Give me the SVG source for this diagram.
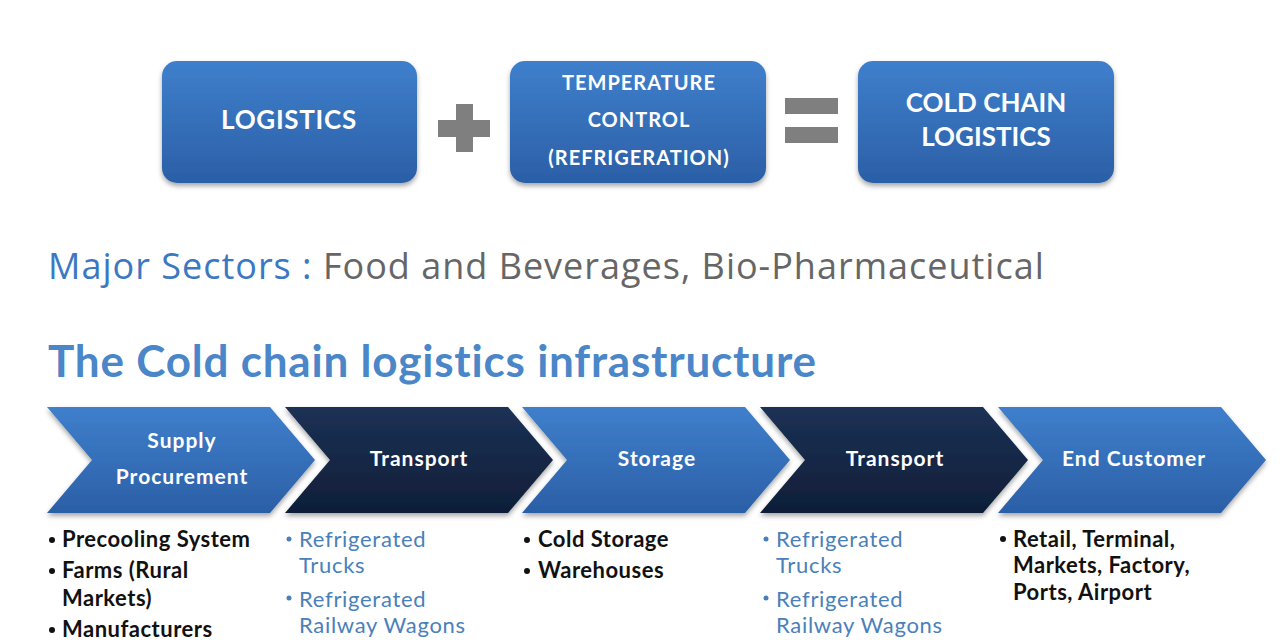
<svg xmlns="http://www.w3.org/2000/svg" width="1280" height="640" viewBox="0 0 1280 640">
<defs>
<linearGradient id="gBlue" x1="0" y1="0" x2="0" y2="1">
<stop offset="0" stop-color="#3f7fcc"/>
<stop offset="1" stop-color="#2b5fa6"/>
</linearGradient>
<linearGradient id="gDark" x1="0" y1="0" x2="0" y2="1">
<stop offset="0" stop-color="#1c3155"/>
<stop offset="1" stop-color="#0f1e38"/>
</linearGradient>
<filter id="sh" x="-10%" y="-10%" width="120%" height="130%">
<feDropShadow dx="0" dy="3" stdDeviation="2.5" flood-color="#000" flood-opacity="0.35"/>
</filter>
<style>
text{font-family:Lato,"Open Sans","Liberation Sans",sans-serif}
.bt{fill:#fff;font-weight:bold;text-anchor:middle}
.ch{fill:#fff;font-weight:bold;text-anchor:middle;font-size:21px;letter-spacing:1px}
.blk{fill:#111;font-size:22px;font-weight:bold;letter-spacing:0.5px}
.blu{fill:#4a80ba;font-size:22px;letter-spacing:0.7px}
.op{fill:#7f7f7f}
</style>
</defs>
<rect width="1280" height="640" fill="#fff"/>

<g id="logistics">
<rect x="162" y="61" width="255" height="122" rx="15" fill="url(#gBlue)" filter="url(#sh)"/>
<text class="bt" x="289" y="129" font-size="26" letter-spacing="0.7">LOGISTICS</text>
</g>
<g id="plus">
<path class="op" d="M456 104h17v16h17v17h-17v15h-17v-15h-18v-17h18z"/>
</g>
<g id="temperature">
<rect x="510" y="61" width="256" height="122" rx="15" fill="url(#gBlue)" filter="url(#sh)"/>
<text class="bt" x="639" y="90" font-size="20" letter-spacing="1">TEMPERATURE</text>
<text class="bt" x="639" y="127" font-size="20" letter-spacing="1">CONTROL</text>
<text class="bt" x="639" y="165" font-size="20" letter-spacing="1">(REFRIGERATION)</text>
</g>
<g id="equals">
<rect class="op" x="785" y="98" width="53" height="16"/>
<rect class="op" x="785" y="127" width="53" height="16"/>
</g>
<g id="coldchain">
<rect x="858" y="61" width="256" height="122" rx="15" fill="url(#gBlue)" filter="url(#sh)"/>
<text class="bt" x="986" y="112" font-size="26">COLD CHAIN</text>
<text class="bt" x="986" y="146" font-size="26">LOGISTICS</text>
</g>

<g id="sectors">
<text x="48" y="279" font-size="36" letter-spacing="1" style="font-family:'Open Sans','Liberation Sans',sans-serif"><tspan fill="#3b78c2">Major Sectors : </tspan><tspan fill="#666">Food and Beverages, Bio-Pharmaceutical</tspan></text>
</g>
<g id="title">
<text x="48" y="377" font-size="44" font-weight="bold" letter-spacing="0.8" fill="#4a86c8">The Cold chain logistics infrastructure</text>
</g>

<g id="supply">
<path d="M47 407h223l45 53l-45 53h-223l45-53z" fill="url(#gBlue)" filter="url(#sh)"/>
<text class="ch" x="182" y="448">Supply</text>
<text class="ch" x="182" y="484">Procurement</text>
</g>
<g id="transport1">
<path d="M285 407h223l45 53l-45 53h-223l45-53z" fill="url(#gDark)" filter="url(#sh)"/>
<text class="ch" x="419" y="466">Transport</text>
</g>
<g id="storage">
<path d="M522 407h223l45 53l-45 53h-223l45-53z" fill="url(#gBlue)" filter="url(#sh)"/>
<text class="ch" x="657" y="466">Storage</text>
</g>
<g id="transport2">
<path d="M760 407h223l45 53l-45 53h-223l45-53z" fill="url(#gDark)" filter="url(#sh)"/>
<text class="ch" x="895" y="466">Transport</text>
</g>
<g id="endcustomer">
<path d="M998 407h223l45 53l-45 53h-223l45-53z" fill="url(#gBlue)" filter="url(#sh)"/>
<text class="ch" x="1134" y="466">End Customer</text>
</g>

<g id="list1">
<circle cx="52" cy="540" r="3" fill="#111"/>
<circle cx="52" cy="571" r="3" fill="#111"/>
<circle cx="52" cy="630" r="3" fill="#111"/>
<text class="blk" x="62" y="547">Precooling System</text>
<text class="blk" x="62" y="578">Farms (Rural</text>
<text class="blk" x="62" y="606">Markets)</text>
<text class="blk" x="62" y="637">Manufacturers</text>
</g>
<g id="list2">
<circle cx="289" cy="539" r="2.5" fill="#4a80ba"/>
<circle cx="289" cy="598" r="2.5" fill="#4a80ba"/>
<text class="blu" x="299" y="547">Refrigerated</text>
<text class="blu" x="299" y="573">Trucks</text>
<text class="blu" x="299" y="607">Refrigerated</text>
<text class="blu" x="299" y="633">Railway Wagons</text>
</g>
<g id="list3">
<circle cx="527" cy="540" r="3" fill="#111"/>
<circle cx="527" cy="571" r="3" fill="#111"/>
<text class="blk" x="538" y="547">Cold Storage</text>
<text class="blk" x="538" y="578">Warehouses</text>
</g>
<g id="list4">
<circle cx="766" cy="539" r="2.5" fill="#4a80ba"/>
<circle cx="766" cy="598" r="2.5" fill="#4a80ba"/>
<text class="blu" x="776" y="547">Refrigerated</text>
<text class="blu" x="776" y="573">Trucks</text>
<text class="blu" x="776" y="607">Refrigerated</text>
<text class="blu" x="776" y="633">Railway Wagons</text>
</g>
<g id="list5">
<circle cx="1003" cy="539" r="3" fill="#111"/>
<text class="blk" x="1013" y="547">Retail, Terminal,</text>
<text class="blk" x="1013" y="573">Markets, Factory,</text>
<text class="blk" x="1013" y="600">Ports, Airport</text>
</g>
</svg>
